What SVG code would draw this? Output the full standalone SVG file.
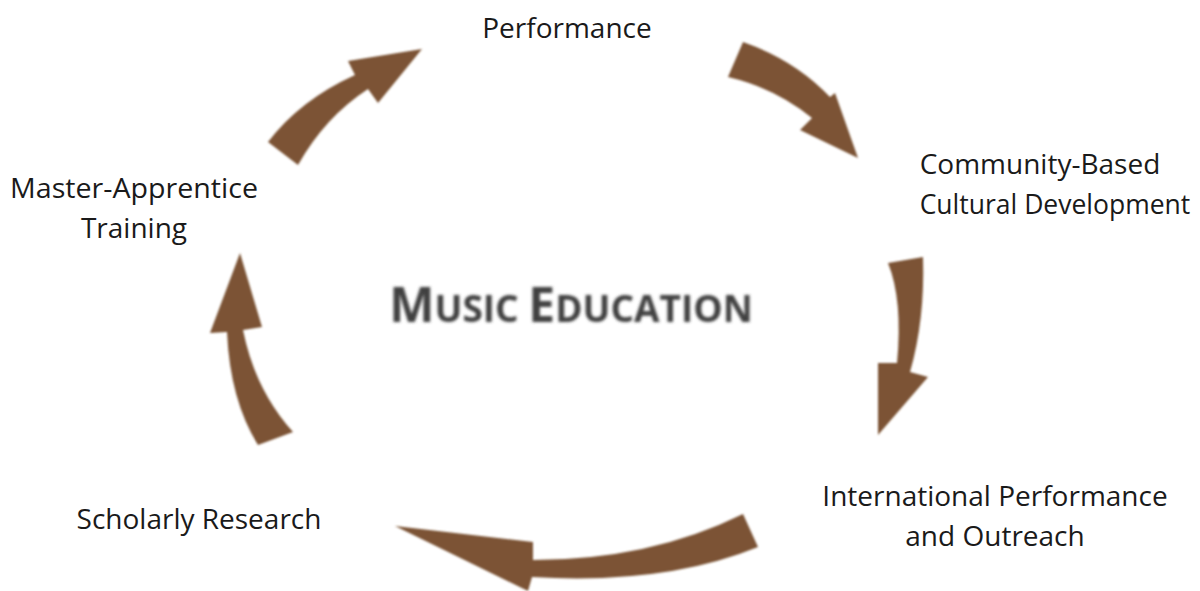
<svg xmlns="http://www.w3.org/2000/svg" width="1200" height="591" viewBox="0 0 1200 591">
<defs>
<style>
.lbl{font-family:"Open Sans","Noto Sans","Liberation Sans",sans-serif;font-size:28px;fill:#1a1a1a;text-anchor:middle}
.arr{fill:#7c5334;filter:url(#soft)}
.title{font-family:"Open Sans","Noto Sans","Liberation Sans",sans-serif;font-weight:bold;fill:#3f3f3f;filter:url(#blur)}
</style>
<filter id="soft" x="-10%" y="-10%" width="120%" height="120%"><feGaussianBlur stdDeviation="0.8"/></filter>
<filter id="blur" x="-5%" y="-20%" width="110%" height="140%"><feGaussianBlur stdDeviation="1.4"/></filter>
</defs>
<rect width="1200" height="591" fill="#ffffff"/>
<g id="connectors">
<path class="arr" d="M268,142 Q300,100 355,75 L348,61 L422,49 L378,103 L368,89 Q325,117 298,165 Z"/>
<path class="arr" d="M743,42 Q795,60 830,97 L835,93 L858,158 L800,130 L812,118 Q775,88 728,77 Z"/>
<path class="arr" d="M888,263 Q903,300 897,363 L878,363 L878,435 L928,377 L910,372 Q925,320 923,257 Z"/>
<path class="arr" d="M743,514 Q650,560 533,560 L533,542 L395,526 L528,591 L532,577 Q665,585 758,547 Z"/>
<path class="arr" d="M227,332 L210,333 L240,253 L262,327 L243,330 Q255,390 293,432 L258,445 Q230,400 227,332 Z"/>
</g>
<g id="center"><text class="title" x="571" y="322" text-anchor="middle"><tspan font-size="48">M</tspan><tspan font-size="37">USIC </tspan><tspan font-size="48">E</tspan><tspan font-size="37">DUCATION</tspan></text></g>
<g id="performance"><text class="lbl" x="567" y="38">Performance</text></g>
<g id="community"><text class="lbl" x="1040" y="174">Community-Based</text><text class="lbl" x="1055" y="214" style="font-size:26.5px">Cultural Development</text></g>
<g id="international"><text class="lbl" x="995" y="506">International Performance</text><text class="lbl" x="995" y="546">and Outreach</text></g>
<g id="scholarly"><text class="lbl" x="199" y="529">Scholarly Research</text></g>
<g id="master"><text class="lbl" x="134" y="198" textLength="248" lengthAdjust="spacingAndGlyphs">Master-Apprentice</text><text class="lbl" x="134" y="238">Training</text></g>
</svg>
